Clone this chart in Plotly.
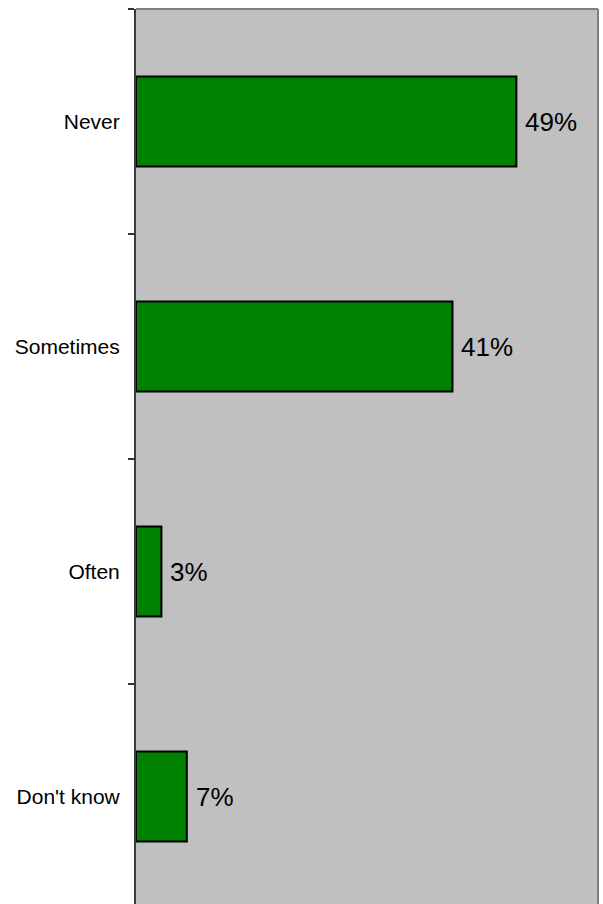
import plotly.graph_objects as go

categories = ["Never", "Sometimes", "Often", "Don't know"]
values = [49.4, 41.1, 3.3, 6.6]
value_labels = ["49%", "41%", "3%", "7%"]

W, H = 603, 904
ml, mr, mt, mb = 136, 5, 9, 0
band_px = 225
plot_h = H - mt - mb
y_top = -0.5
y_bottom = y_top + plot_h / band_px

fig = go.Figure()
fig.add_trace(go.Bar(
    x=values, y=categories, orientation="h",
    marker=dict(color="#008000", line=dict(color="#000000", width=2)),
    hoverinfo="skip", showlegend=False,
))

for c, v, t in zip(categories, values, value_labels):
    fig.add_annotation(x=v, y=c, text=t, showarrow=False, xanchor="left",
                       yanchor="middle", xshift=7,
                       font=dict(family="Arial, Liberation Sans, sans-serif", size=26, color="#000000"))

fig.update_layout(
    width=W, height=H,
    margin=dict(l=ml, r=mr, t=mt, b=mb, pad=0, autoexpand=False),
    paper_bgcolor="#FFFFFF", plot_bgcolor="#C0C0C0",
    bargap=0.6,
    font=dict(family="Arial, Liberation Sans, sans-serif", color="#000000"),
    xaxis=dict(range=[0, 60], showgrid=False, zeroline=False, showline=False,
               showticklabels=False, ticks="", automargin=False),
    yaxis=dict(type="category", categoryorder="array", categoryarray=categories,
               range=[y_bottom, y_top], tickson="boundaries", ticks="outside",
               ticklen=6, tickwidth=1.5, tickcolor="#333333",
               showline=True, linecolor="#3a3a3a", linewidth=2,
               showgrid=False, zeroline=False, ticklabelstandoff=10,
               automargin=False,
               tickfont=dict(size=21, color="#000000")),
    shapes=[
        dict(type="line", xref="paper", yref="paper", x0=0, x1=1, y0=1, y1=1,
             line=dict(color="#808080", width=2)),
        dict(type="line", xref="paper", yref="paper", x0=1, x1=1, y0=0, y1=1,
             line=dict(color="#808080", width=2)),
    ],
)

fig.write_html("out.html",
               config={"displayModeBar": False, "staticPlot": True},
               post_script="document.body.style.margin='0';document.body.style.overflow='hidden';")
